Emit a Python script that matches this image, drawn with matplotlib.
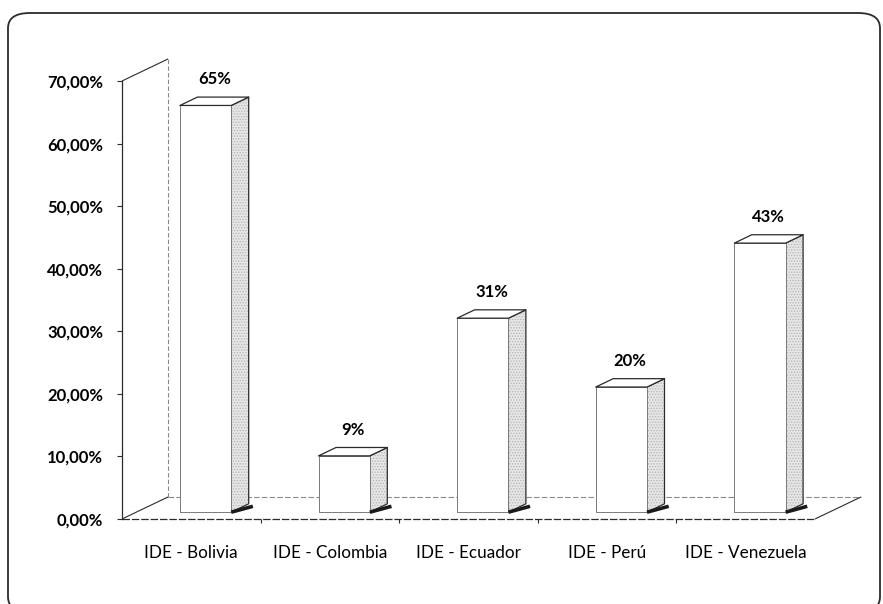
import matplotlib.pyplot as plt
from matplotlib.patches import Polygon, FancyBboxPatch
from matplotlib.ticker import FuncFormatter, FixedLocator

categories = ["IDE - Bolivia", "IDE - Colombia", "IDE - Ecuador", "IDE - Perú", "IDE - Venezuela"]
values = [0.65, 0.09, 0.31, 0.20, 0.43]
value_labels = ["65%", "9%", "31%", "20%", "43%"]
y_ticks = [0.0, 0.1, 0.2, 0.3, 0.4, 0.5, 0.6, 0.7]

plt.rcParams['font.family'] = ['Lato', 'DejaVu Sans']
plt.rcParams['hatch.linewidth'] = 0.6

W, H = 883, 604
fig = plt.figure(figsize=(W / 100, H / 100), dpi=100)

# plot area: front floor edge 122..815 px, 0% at 519 px, 70% at 81 px
ax = fig.add_axes([122 / W, 1 - 519 / H, (815 - 122) / W, (519 - 81) / H])
ax.set_xlim(0, len(categories))
ax.set_ylim(0, 0.70)

# depth vector of the 3d floor, in data units
DX, DY = 0.332, 0.0352
# bars sit between these depth fractions, width along the category axis
D0, D1 = 0.31, 0.69
BW = 0.37

line_dark = "#2b2b2b"
line_soft = "#8a8a8a"


def poly(pts, fc, ec, lw, z, hatch=None):
    p = Polygon(pts, closed=True, facecolor=fc, edgecolor=ec, lw=lw,
                zorder=z, clip_on=False, joinstyle="round", hatch=hatch)
    ax.add_patch(p)


def seg(xs, ys, **kw):
    ax.plot(xs, ys, clip_on=False, solid_capstyle="butt", **kw)


top = y_ticks[-1]
n = len(categories)

# back wall and floor outline
seg([DX, DX], [DY, top + DY], color=line_soft, lw=0.8, ls=(0, (4, 2)), zorder=1)
seg([DX, n + DX], [DY, DY], color=line_soft, lw=0.8, ls=(0, (5, 2)), zorder=1)
seg([0, DX], [top, top + DY], color=line_dark, lw=0.8, zorder=1)
seg([0, DX], [0, DY], color=line_dark, lw=0.8, zorder=1)
seg([0, n], [0, 0], color=line_dark, lw=0.9, ls=(0, (6, 1.5)), zorder=1)
seg([n, n + DX], [0, DY], color=line_dark, lw=0.8, zorder=1)

# 3d columns
for i, (v, lab) in enumerate(zip(values, value_labels)):
    xl = i + 0.5 - BW / 2
    xr = i + 0.5 + BW / 2
    fx0, fy0 = D0 * DX, D0 * DY
    fx1, fy1 = D1 * DX, D1 * DY
    front = [(xl + fx0, fy0), (xr + fx0, fy0), (xr + fx0, v + fy0), (xl + fx0, v + fy0)]
    side = [(xr + fx0, fy0), (xr + fx1, fy1), (xr + fx1, v + fy1), (xr + fx0, v + fy0)]
    lid = [(xl + fx0, v + fy0), (xr + fx0, v + fy0), (xr + fx1, v + fy1), (xl + fx1, v + fy1)]
    # speckled grey side face, then its outline
    poly(side, "#e6e6e6", "#b4b4b4", 0, 3, hatch="......")
    poly(side, "none", line_dark, 0.9, 3)
    poly(front, "white", "#7a7a7a", 0.7, 4)
    poly(lid, "white", line_dark, 0.9, 4)
    # dark shadow at the foot of the side face
    seg([xr + fx0, xr + fx1 + 0.03], [fy0, fy1 - 0.004], color="#1a1a1a", lw=2.6, zorder=5)
    ax.annotate(lab, (i + 0.5 + 0.5 * DX, v + fy1), xytext=(0, 7),
                textcoords="offset points", ha="center", va="bottom",
                fontsize=12, fontweight="bold", zorder=6, annotation_clip=False)

for s in ["top", "right", "bottom"]:
    ax.spines[s].set_visible(False)
ax.spines["left"].set_color(line_dark)
ax.spines["left"].set_linewidth(0.9)
ax.set_facecolor("none")

ax.yaxis.set_major_locator(FixedLocator(y_ticks))
ax.yaxis.set_major_formatter(FuncFormatter(lambda y, _: f"{y * 100:.2f}%".replace(".", ",")))
ax.tick_params(axis="y", length=3.6, width=0.8, color=line_dark, pad=10,
               labelsize=12)
for t in ax.get_yticklabels():
    t.set_fontweight("bold")

ax.set_xticks([i + 0.5 for i in range(n)])
ax.set_xticklabels(categories)
ax.set_xticks(range(1, n), minor=True)
ax.tick_params(axis="x", which="major", length=0, pad=19, labelsize=12.3)
ax.tick_params(axis="x", which="minor", length=3, width=0.8, color=line_dark)

# rounded chart frame, bottom edge runs off the page
frame = FancyBboxPatch((8 / W, 1 - 612 / H), (880 - 8) / W, (612 - 13) / H,
                       boxstyle="round,pad=0,rounding_size=0.025",
                       transform=fig.transFigure, facecolor="none",
                       edgecolor=line_dark, lw=1.3, zorder=0)
fig.patches.append(frame)

fig.savefig("out.png", dpi=100)
